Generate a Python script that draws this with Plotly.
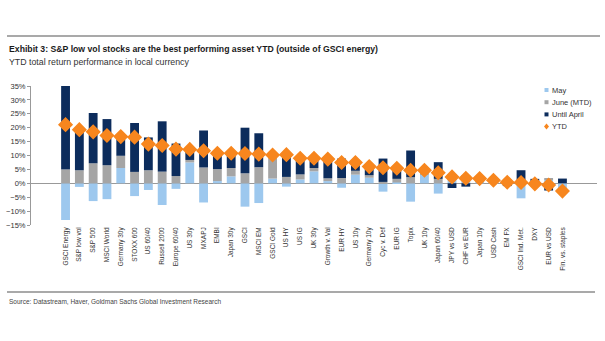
import plotly.graph_objects as go

categories = ["GSCI Energy", "S&P low vol", "S&P 500", "MSCI World", "Germany 30y", "STOXX 600",
              "US 60/40", "Russell 2000", "Europe 60/40", "US 30y", "MXAPJ", "EMBI", "Japan 30y",
              "GSCI", "MSCI EM", "GSCI Gold", "US HY", "US IG", "UK 30y", "Growth v. Val",
              "EUR HY", "US 10y", "Germany 10y", "Cyc v. Def", "EUR IG", "Topix", "UK 10y",
              "Japan 60/40", "JPY vs USD", "CHF vs EUR", "Japan 10y", "USD Cash", "EM FX",
              "GSCI Ind. Met.", "DXY", "EUR vs USD", "Fin. vs. staples"]

may = [-13.2, -1.3, -6.4, -5.7, 5.5, -4.6, -2.4, -7.8, -2.0, 7.5, -6.9, 0.8, 2.5,
       -8.4, -7.1, 1.7, -1.2, 1.4, 4.3, 0.8, -1.6, 3.1, 2.0, -3.0, 0.3, -6.6, 3.0,
       -3.7, 3.0, 2.6, 1.3, 0.3, 0.6, -5.4, -1.2, 1.3, -3.3]
june = [5.0, 4.7, 7.2, 6.5, 4.4, 4.1, 4.7, 4.2, 2.6, 0.9, 5.7, 4.3, 3.0,
        3.6, 5.8, 7.9, 2.3, 1.8, 1.2, 1.0, 1.9, 1.4, 0.9, 0.5, 1.3, 2.2, 0.8,
        1.6, 0.3, 0.2, 0.3, 0.2, 0.2, 0.3, 0.2, 0.3, 0.0]
until_april = [30.0, 15.4, 18.1, 16.6, 6.0, 17.6, 11.8, 18.1, 11.7, 4.0, 13.3, 5.7, 5.1,
               16.4, 12.2, 0.2, 8.8, 5.8, 2.6, 7.1, 7.0, 3.6, 2.9, 8.4, 4.3, 9.6, 1.3,
               6.0, -1.7, -1.2, 0.2, 0.6, -1.0, 4.4, 1.4, -2.6, 1.7]
ytd = [21.1, 19.3, 18.5, 17.2, 16.8, 16.6, 14.1, 13.6, 12.3, 12.2, 11.7, 10.8, 10.8,
       10.7, 10.5, 10.2, 10.3, 9.0, 9.0, 8.7, 7.5, 7.5, 6.0, 5.6, 5.4, 4.7, 4.7,
       3.8, 2.3, 1.8, 1.7, 1.1, 0.4, 0.3, -0.2, -0.6, -2.8]

series_names = ["May", "June (MTD)", "Until April", "YTD"]
series_colors = ["#9dc8ee", "#a5a5a5", "#0c2c5c", "#f7861e"]

font_family = "Liberation Sans, Arial, sans-serif"

fig = go.Figure()
for name, vals, col in zip(series_names[:3], [may, june, until_april], series_colors[:3]):
    fig.add_trace(go.Bar(x=categories, y=vals, name=name, marker_color=col, marker_line_width=0))
fig.add_trace(go.Scatter(x=categories, y=ytd, name="YTD", mode="markers",
                         marker=dict(symbol="diamond", size=10, color=series_colors[3],
                                     line=dict(color=series_colors[3], width=1.5))))

L, R, T, B = 31, 8, 86, 116
H = 341 - T - B
W = 605 - L - R

def py(Y):
    return (341 - B - Y) / H

def px(X):
    return (X - L) / W

shapes = [
    dict(type="line", xref="paper", yref="paper", x0=px(7), x1=px(600), y0=py(36), y1=py(36),
         line=dict(color="#8c8c8c", width=1.5)),
    dict(type="line", xref="paper", yref="paper", x0=px(7), x1=px(595), y0=py(292), y1=py(292),
         line=dict(color="#8c8c8c", width=1.5)),
]
annotations = [
    dict(text="<b>Exhibit 3: S&P low vol stocks are the best performing asset YTD (outside of GSCI energy)</b>",
         xref="paper", yref="paper", x=px(7), y=py(49), xanchor="left", yanchor="middle",
         showarrow=False, font=dict(size=8.7, color="#1a1a1a", family=font_family)),
    dict(text="YTD total return performance in local currency",
         xref="paper", yref="paper", x=px(7), y=py(62.5), xanchor="left", yanchor="middle",
         showarrow=False, font=dict(size=8.8, color="#333333", family=font_family)),
    dict(text="Source: Datastream, Haver, Goldman Sachs Global Investment Research",
         xref="paper", yref="paper", x=px(7), y=py(301.5), xanchor="left", yanchor="middle",
         showarrow=False, font=dict(size=6.5, color="#444444", family=font_family)),
]

# compact legend (decoration)
leg_y = [90, 102.2, 114.4, 126.6]
for i, (name, col) in enumerate(zip(series_names, series_colors)):
    yc = py(leg_y[i])
    if i < 3:
        shapes.append(dict(type="rect", xref="paper", yref="paper",
                           x0=px(544.5), x1=px(548.5), y0=yc - 2 / H, y1=yc + 2 / H,
                           fillcolor=col, line=dict(width=0)))
    else:
        shapes.append(dict(type="path", xref="paper", yref="paper",
                           path=f"M {px(546.5)},{yc + 3 / H} L {px(549)},{yc} L {px(546.5)},{yc - 3 / H} L {px(544)},{yc} Z",
                           fillcolor=col, line=dict(width=0)))
    annotations.append(dict(text=name, xref="paper", yref="paper", x=px(550), y=yc,
                            xanchor="left", yanchor="middle", showarrow=False,
                            font=dict(size=7.5, color="#333333", family=font_family)))

fig.update_layout(
    width=605, height=341,
    margin=dict(l=L, r=R, t=T, b=B),
    barmode="relative",
    bargap=0.36,
    paper_bgcolor="white", plot_bgcolor="white",
    font=dict(family=font_family, size=7, color="#333333"),
    showlegend=False,
    xaxis=dict(showgrid=False, showline=False, ticks="", tickangle=-90,
               tickfont=dict(size=6.5, color="#333333"), automargin=False),
    yaxis=dict(range=[-15, 35], dtick=5, ticksuffix="%", showgrid=False,
               showline=True, linecolor="#999999", linewidth=1,
               ticks="outside", ticklen=3, tickcolor="#999999",
               zeroline=True, zerolinecolor="#999999", zerolinewidth=1,
               tickfont=dict(size=7.5, color="#333333"), automargin=False),
    shapes=shapes,
    annotations=annotations,
)

fig.write_html("out.html")
